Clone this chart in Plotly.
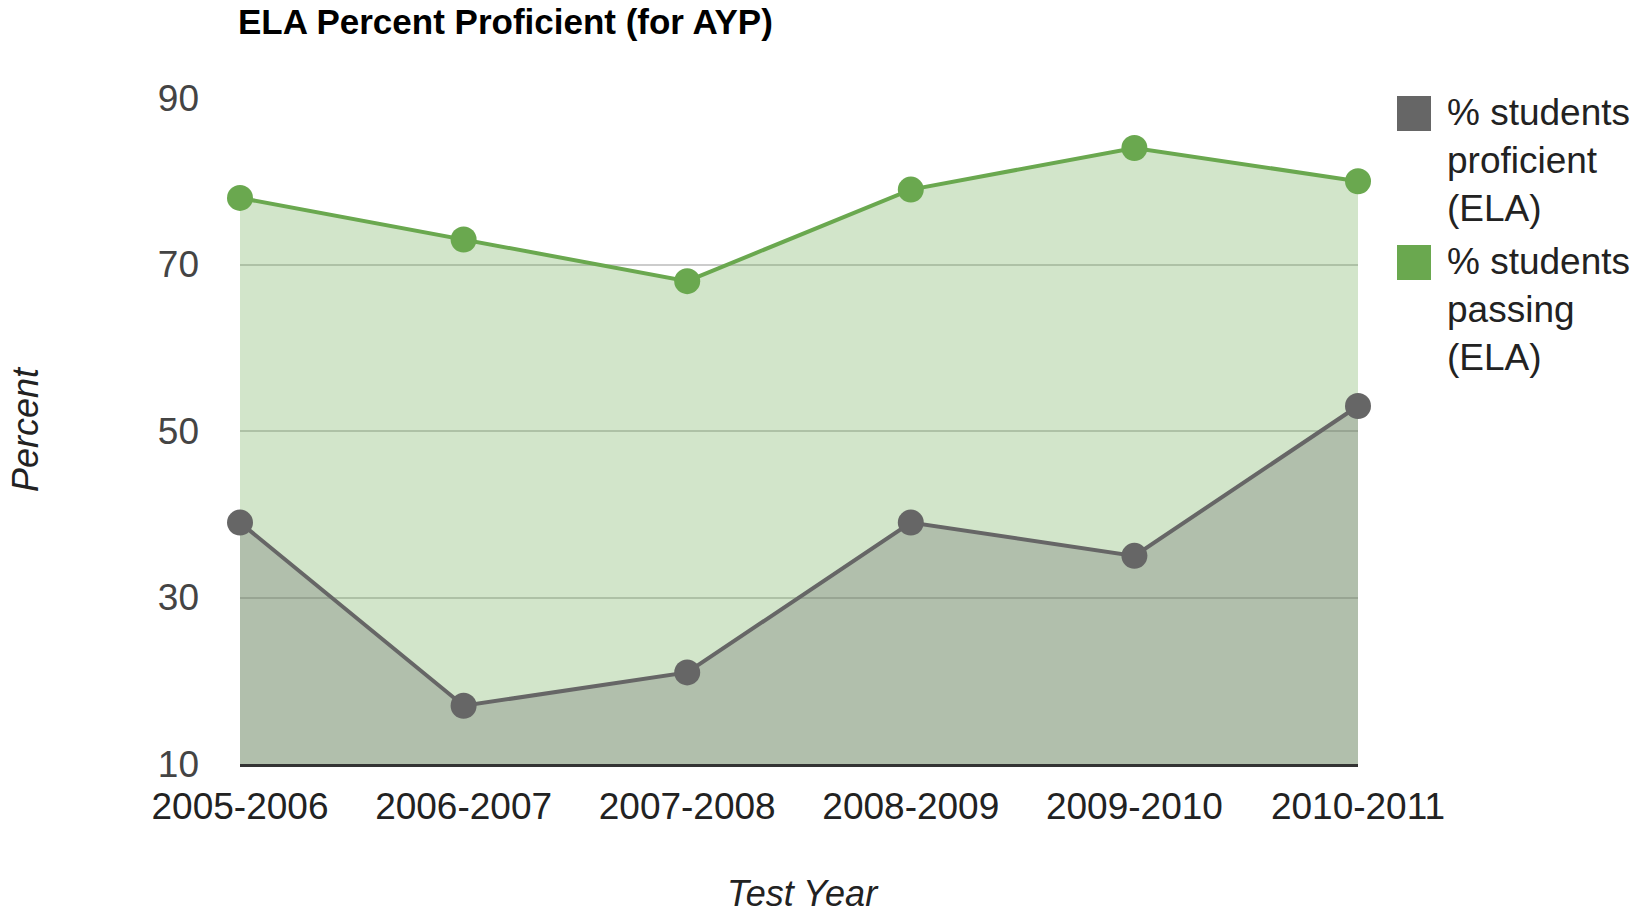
import plotly.graph_objects as go

years = ["2005-2006", "2006-2007", "2007-2008", "2008-2009", "2009-2010", "2010-2011"]
proficient = [39, 17, 21, 39, 35, 53]
passing = [78, 73, 68, 79, 84, 80]
series_names = ["% students<br>proficient<br>(ELA)", "% students<br>passing<br>(ELA)"]
y_ticks = [10, 30, 50, 70, 90]

GRAY = "#666666"
GREEN = "#6aa84f"

W, H = 1637, 914
# plot area in page pixels: x 240..1358, y 98..764
ML, MT = 240, 98
MR = W - 1358
MB = H - 764
PW, PH = W - ML - MR, H - MT - MB

def px_x(px):
    return (px - ML) / PW

def px_y(py):
    return (H - MB - py) / PH

fig = go.Figure()
fig.add_trace(go.Scatter(
    x=years, y=passing, mode="lines+markers", fill="tozeroy",
    fillcolor="rgba(106,168,79,0.30)",
    line=dict(color=GREEN, width=4), marker=dict(color=GREEN, size=26),
    cliponaxis=False, showlegend=False, name="% students passing (ELA)"))
fig.add_trace(go.Scatter(
    x=years, y=proficient, mode="lines+markers", fill="tozeroy",
    fillcolor="rgba(102,102,102,0.30)",
    line=dict(color=GRAY, width=4), marker=dict(color=GRAY, size=26),
    cliponaxis=False, showlegend=False, name="% students proficient (ELA)"))

FONT = "Liberation Sans, Arial, sans-serif"

# manual legend
legend_colors = [GRAY, GREEN]
legend_tops = [96, 245]
legend_mid = [160, 309]
shapes = []
annotations = []
for name, col, top, mid in zip(series_names, legend_colors, legend_tops, legend_mid):
    shapes.append(dict(type="rect", xref="paper", yref="paper",
                       x0=px_x(1397), x1=px_x(1431), y0=px_y(top + 35), y1=px_y(top),
                       fillcolor=col, line=dict(width=0)))
    annotations.append(dict(text=name, xref="paper", yref="paper",
                            x=px_x(1445), y=px_y(mid), xanchor="left", yanchor="middle",
                            align="left", showarrow=False,
                            font=dict(family=FONT, size=37, color="#222222")))

annotations.append(dict(text="<i>Percent</i>", xref="paper", yref="paper",
                        x=px_x(26), y=px_y(429), xanchor="center", yanchor="middle",
                        textangle=-90, showarrow=False,
                        font=dict(family=FONT, size=36, color="#222222")))
annotations.append(dict(text="<i>Test Year</i>", xref="paper", yref="paper",
                        x=px_x(803), y=px_y(893), xanchor="center", yanchor="middle",
                        showarrow=False,
                        font=dict(family=FONT, size=36, color="#222222")))

fig.update_layout(
    width=W, height=H,
    margin=dict(l=ML, r=MR, t=MT, b=MB, autoexpand=False),
    paper_bgcolor="white", plot_bgcolor="white",
    title=dict(text="<b>ELA Percent Proficient (for AYP)</b>", xref="container",
               x=238 / W, xanchor="left", yref="container",
               y=1 - 22 / H, yanchor="middle",
               font=dict(family=FONT, size=35, color="#000000")),
    shapes=shapes, annotations=annotations,
    xaxis=dict(type="category", range=[0, 5], showgrid=False, zeroline=False,
               showline=True, linecolor="#333333", linewidth=3,
               tickfont=dict(family=FONT, size=37, color="#222222"),
               ticks="", ticklabelstandoff=8),
    yaxis=dict(range=[10, 90], tickvals=y_ticks, showgrid=True, gridcolor="#cccccc",
               gridwidth=2, zeroline=False, showline=False,
               tickfont=dict(family=FONT, size=37, color="#444444"),
               ticks="", ticklabelstandoff=40),
    hovermode=False,
)

fig.write_html("out.html",
               config={"displayModeBar": False, "staticPlot": True},
               post_script="document.body.style.margin='0';document.body.style.overflow='hidden';")
